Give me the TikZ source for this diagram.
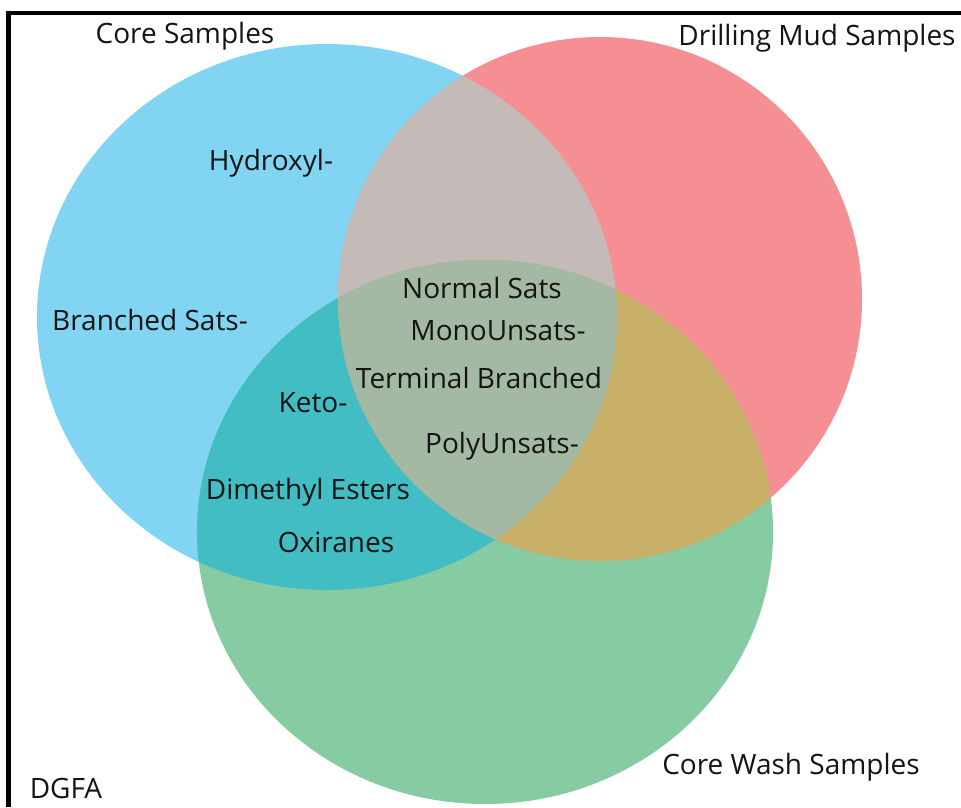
\documentclass[tikz,border=0pt]{standalone}
\usepackage{fontspec}
\setmainfont{Open Sans}
\definecolor{coreblue}{RGB}{129,213,243}
\definecolor{mudred}{RGB}{246,143,147}
\definecolor{washgreen}{RGB}{134,203,162}
\definecolor{bluered}{RGB}{196,186,184}
\definecolor{bluegreen}{RGB}{66,189,196}
\definecolor{redgreen}{RGB}{201,176,104}
\definecolor{allthree}{RGB}{164,185,164}
\definecolor{inktext}{RGB}{20,20,20}
\tikzset{
  lbl/.style={anchor=base, inner sep=0pt, text=inktext, font=\fontsize{28}{30}\selectfont},
  frameline/.style={line width=4.5pt, black}
}
\begin{document}
\begin{tikzpicture}[x=1pt, y=-1pt]
\useasboundingbox (0,0) rectangle (961,807);
\fill[white] (0,0) rectangle (961,807);
% sets
\def\coreset{(327,317) ellipse [x radius=290, y radius=273]}
\def\mudset{(600,299) circle [radius=262]}
\def\washset{(485,532) ellipse [x radius=288, y radius=272]}
\fill[coreblue] \coreset;
\fill[mudred] \mudset;
\fill[washgreen] \washset;
% pairwise overlaps
\begin{scope}
  \clip \coreset; \fill[bluered] \mudset;
\end{scope}
\begin{scope}
  \clip \coreset; \fill[bluegreen] \washset;
\end{scope}
\begin{scope}
  \clip \mudset; \fill[redgreen] \washset;
\end{scope}
% common region
\begin{scope}
  \clip \coreset; \clip \mudset; \fill[allthree] \washset;
\end{scope}
% frame
\draw[frameline] (8.5,807) -- (8.5,13) -- (961,13);
% set titles
\node[lbl] (core) at (185,43) {Core Samples};
\node[lbl] (mud) at (817,45) {Drilling Mud Samples};
\node[lbl] (wash) at (791,774) {Core Wash Samples};
\node[lbl] (dgfa) at (66,798) {DGFA};
% compound classes
\node[lbl] (hydroxyl) at (271,170) {Hydroxyl-};
\node[lbl] (branched) at (150,330) {Branched Sats-};
\node[lbl] (normal) at (482,298) {Normal Sats};
\node[lbl] (mono) at (498,340) {MonoUnsats-};
\node[lbl] (terminal) at (479,388) {Terminal Branched};
\node[lbl] (keto) at (313,412) {Keto-};
\node[lbl] (poly) at (502,453) {PolyUnsats-};
\node[lbl] (dimethyl) at (308,499) {Dimethyl Esters};
\node[lbl] (oxiranes) at (336,552) {Oxiranes};
\end{tikzpicture}
\end{document}
